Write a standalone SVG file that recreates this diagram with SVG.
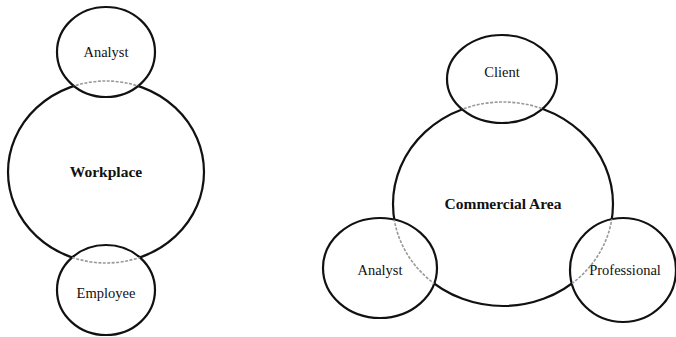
<svg xmlns="http://www.w3.org/2000/svg" width="676" height="337" viewBox="0 0 676 337">
  <style>
    .ring { fill: #fff; stroke: #111; stroke-width: 2.2; }
    .overlap { fill: none; stroke: #999; stroke-width: 1.6; stroke-dasharray: 3 1.5; }
    text { font-family: 'Liberation Serif', 'Times New Roman', serif; font-size: 14.5px; fill: #111; text-anchor: middle; }
    text.main { font-weight: bold; font-size: 15.5px; }
  </style>
  <defs>
    <clipPath id="clipLeft">
      <ellipse cx="106" cy="52" rx="49" ry="45"/>
      <ellipse cx="106" cy="290" rx="49" ry="45"/>
    </clipPath>
    <clipPath id="clipRight">
      <ellipse cx="502" cy="79" rx="55" ry="44"/>
      <ellipse cx="380" cy="268" rx="57" ry="50"/>
      <ellipse cx="623" cy="270" rx="53" ry="52"/>
    </clipPath>
  </defs>
  <rect width="676" height="337" fill="#fff"/>

  <!-- Workplace cluster -->
  <g id="workplace">
    <ellipse class="ring" cx="106" cy="172" rx="98" ry="91"/>
    <text class="main" x="106" y="177">Workplace</text>
  </g>
  <g id="analyst-left">
    <ellipse class="ring" cx="106" cy="52" rx="49" ry="45"/>
    <text x="106" y="57">Analyst</text>
  </g>
  <g id="employee">
    <ellipse class="ring" cx="106" cy="290" rx="49" ry="45"/>
    <text x="106" y="298">Employee</text>
  </g>

  <!-- Commercial Area cluster -->
  <g id="commercial-area">
    <ellipse class="ring" cx="503" cy="204" rx="110" ry="102"/>
    <text class="main" x="503" y="209">Commercial Area</text>
  </g>
  <g id="client">
    <ellipse class="ring" cx="502" cy="79" rx="55" ry="44"/>
    <text x="502" y="77">Client</text>
  </g>
  <g id="analyst-right">
    <ellipse class="ring" cx="380" cy="268" rx="57" ry="50"/>
    <text x="380" y="275">Analyst</text>
  </g>
  <g id="professional">
    <ellipse class="ring" cx="623" cy="270" rx="53" ry="52"/>
    <text x="625" y="275">Professional</text>
  </g>

  <!-- hidden edges of the large rings where they pass under the small ones -->
  <g id="connectors">
    <ellipse class="overlap" cx="106" cy="172" rx="98" ry="91" clip-path="url(#clipLeft)"/>
    <ellipse class="overlap" cx="503" cy="204" rx="110" ry="102" clip-path="url(#clipRight)"/>
  </g>
</svg>
